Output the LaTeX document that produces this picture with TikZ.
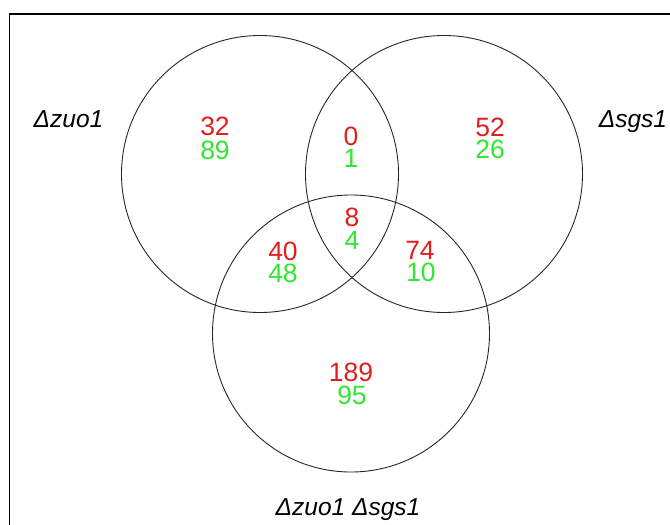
\documentclass[tikz,border=0pt]{standalone}
\usepackage{fontspec}
\setmainfont{Liberation Sans}
\definecolor{vred}{RGB}{225,30,30}
\definecolor{vgreen}{RGB}{50,230,50}
\begin{document}
\begin{tikzpicture}[x=1pt,y=-1pt,
  setc/.style={circle,draw=black!85,line width=0.9pt,minimum size=277pt,inner sep=0pt},
  redn/.style={text=vred,font=\fontsize{26.5}{26.5}\selectfont,inner sep=0pt},
  grnn/.style={text=vgreen,font=\fontsize{26.5}{26.5}\selectfont,inner sep=0pt},
  lab/.style={font=\fontsize{24.5}{24.5}\selectfont\itshape,inner sep=0pt,anchor=base}]
\useasboundingbox (0,0) rectangle (670,525);
\draw[line width=1.3pt] (9.5,530) -- (9.5,14) -- (675,14);
\node[setc] (A) at (260,174) {};
\node[setc] (B) at (444,174) {};
\node[setc] (C) at (351,333.5) {};
\node[lab] (la) at (68.5,127) {Δzuo1};
\node[lab] (lb) at (633,127) {Δsgs1};
\node[lab] (lc) at (348,515) {Δzuo1 Δsgs1};
\node[redn] (r1) at (215,126) {32};
\node[grnn] (g1) at (215,150) {89};
\node[redn] (r2) at (351,136) {0};
\node[grnn] (g2) at (351,158) {1};
\node[redn] (r3) at (490,127) {52};
\node[grnn] (g3) at (490,149) {26};
\node[redn] (r4) at (352,217) {8};
\node[grnn] (g4) at (352,240) {4};
\node[redn] (r5) at (283,251) {40};
\node[grnn] (g5) at (283,273) {48};
\node[redn] (r6) at (420,250) {74};
\node[grnn] (g6) at (421,272) {10};
\node[redn] (r7) at (351,372) {189};
\node[grnn] (g7) at (352,395) {95};
\end{tikzpicture}
\end{document}
